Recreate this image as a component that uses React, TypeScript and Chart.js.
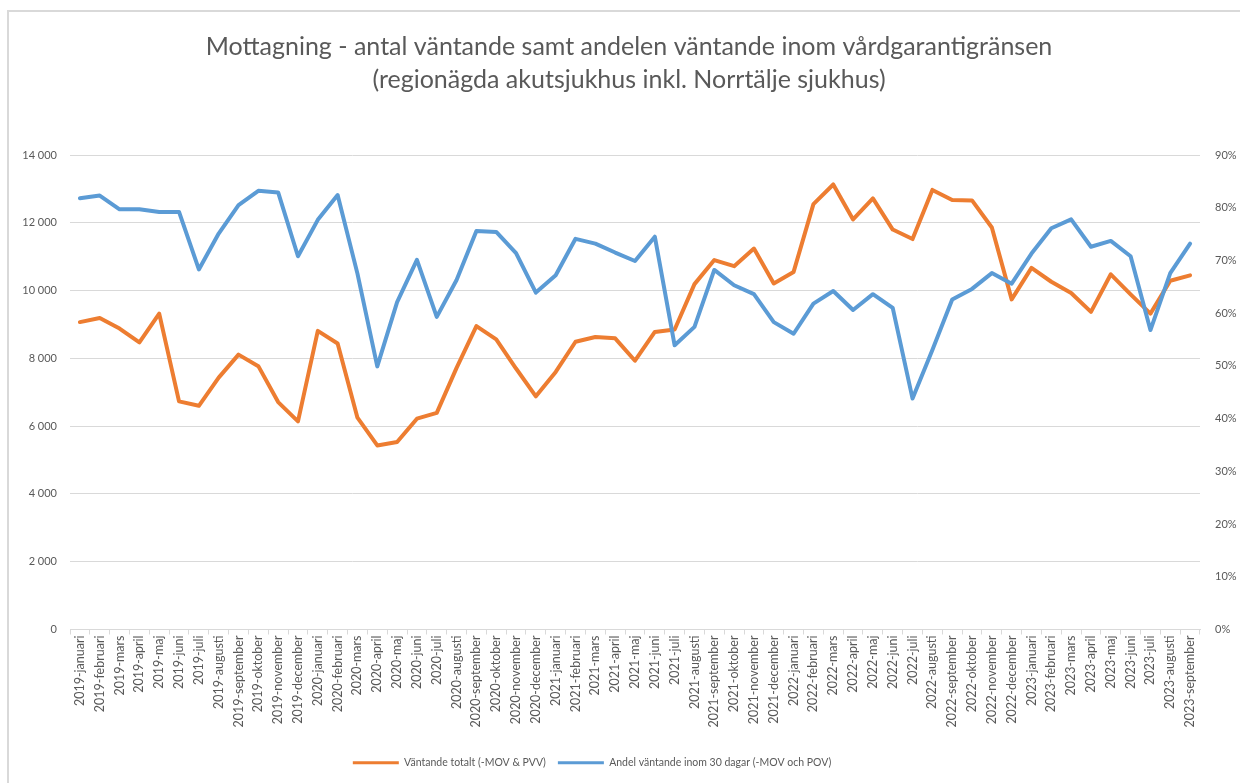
import React, { useEffect, useRef } from "react";
import { Chart, registerables } from "chart.js";

Chart.register(...registerables);

const categories = [
  "2019-januari", "2019-februari", "2019-mars", "2019-april", "2019-maj", "2019-juni",
  "2019-juli", "2019-augusti", "2019-september", "2019-oktober", "2019-november", "2019-december",
  "2020-januari", "2020-februari", "2020-mars", "2020-april", "2020-maj", "2020-juni",
  "2020-juli", "2020-augusti", "2020-september", "2020-oktober", "2020-november", "2020-december",
  "2021-januari", "2021-februari", "2021-mars", "2021-april", "2021-maj", "2021-juni",
  "2021-juli", "2021-augusti", "2021-september", "2021-oktober", "2021-november", "2021-december",
  "2022-januari", "2022-februari", "2022-mars", "2022-april", "2022-maj", "2022-juni",
  "2022-juli", "2022-augusti", "2022-september", "2022-oktober", "2022-november", "2022-december",
  "2023-januari", "2023-februari", "2023-mars", "2023-april", "2023-maj", "2023-juni",
  "2023-juli", "2023-augusti", "2023-september",
];

// Väntande totalt (left axis, antal)
const vantandeTotalt = [
  9070, 9190, 8880, 8470, 9320, 6730, 6600, 7430, 8110, 7770, 6710, 6140,
  8810, 8440, 6250, 5430, 5530, 6220, 6390, 7720, 8950, 8560, 7700, 6880,
  7600, 8490, 8630, 8590, 7930, 8780, 8850, 10190, 10900, 10720, 11240, 10210,
  10550, 12550, 13130, 12100, 12720, 11800, 11520, 12970, 12670, 12660, 11860, 9740,
  10670, 10260, 9930, 9370, 10480, 9890, 9320, 10290, 10450,
];

// Andel väntande inom 30 dagar (right axis, %)
const andelInom30 = [
  81.8, 82.3, 79.7, 79.7, 79.2, 79.2, 68.3, 75.1, 80.5, 83.2, 82.9, 70.8,
  77.7, 82.4, 67.5, 49.9, 62.1, 70.1, 59.3, 66.3, 75.6, 75.4, 71.4, 63.9,
  67.2, 74.1, 73.2, 71.5, 69.9, 74.5, 53.9, 57.4, 68.2, 65.3, 63.6, 58.3,
  56.1, 61.8, 64.2, 60.6, 63.6, 61.0, 43.8, 53.0, 62.6, 64.6, 67.6, 65.6,
  71.3, 76.1, 77.8, 72.6, 73.7, 70.8, 56.8, 67.6, 73.2,
];

const seriesNames = [
  "Väntande totalt (-MOV & PVV)",
  "Andel väntande inom 30 dagar (-MOV och POV)",
];

const titleLines = [
  "Mottagning - antal väntande samt andelen väntande inom vårdgarantigränsen",
  "(regionägda akutsjukhus inkl. Norrtälje sjukhus)",
];

const ORANGE = "#ED7D31";
const BLUE = "#5B9BD5";
const TEXT = "#595959";
const GRID = "#d9d9d9";
const FONT = "Lato";

function formatThousands(v: number): string {
  const s = Math.round(v).toString();
  return s.replace(/\B(?=(\d{3})+(?!\d))/g, " ");
}

const boxShift = {
  id: "boxShift",
  afterLayout(chart: any) {
    const lg = chart.legend;
    if (lg) {
      lg.left -= 28;
      lg.right -= 28;
    }
    const tb = chart.titleBlock;
    if (tb) {
      tb.left += 9;
      tb.right += 9;
    }
  },
};

export default function App() {
  const canvasRef = useRef<HTMLCanvasElement | null>(null);

  useEffect(() => {
    if (!canvasRef.current) return;
    Chart.defaults.font.family = FONT;
    const chart = new Chart(canvasRef.current, {
      type: "line",
      data: {
        labels: categories,
        datasets: [
          {
            label: seriesNames[0],
            data: vantandeTotalt,
            borderColor: ORANGE,
            backgroundColor: ORANGE,
            borderWidth: 4,
            pointRadius: 0,
            tension: 0,
            borderJoinStyle: "round",
            borderCapStyle: "round",
            yAxisID: "y",
            order: 1,
          },
          {
            label: seriesNames[1],
            data: andelInom30,
            borderColor: BLUE,
            backgroundColor: BLUE,
            borderWidth: 4,
            pointRadius: 0,
            tension: 0,
            borderJoinStyle: "round",
            borderCapStyle: "round",
            yAxisID: "y1",
            order: 0,
          },
        ],
      },
      options: {
        responsive: false,
        animation: false,
        devicePixelRatio: 1,
        layout: { padding: { left: 0, right: 0, top: 0, bottom: 5 } },
        plugins: {
          tooltip: { enabled: false },
          title: {
            display: true,
            text: titleLines,
            color: TEXT,
            font: { family: FONT, size: 25, weight: "normal", lineHeight: 1.32 },
            padding: { top: 30, bottom: 59 },
          },
          legend: {
            position: "bottom",
            labels: {
              color: TEXT,
              font: { family: FONT, size: 10.5 },
              boxWidth: 46,
              boxHeight: 3,
              padding: 12,
              generateLabels: (c: any) =>
                Chart.defaults.plugins.legend.labels
                  .generateLabels(c)
                  .map((l: any) => ({ ...l, fillStyle: l.strokeStyle, lineWidth: 0 })),
              sort: (a: any, b: any) => a.datasetIndex - b.datasetIndex,
            },
          },
        },
        scales: {
          x: {
            offset: true,
            grid: {
              offset: true,
              drawOnChartArea: false,
              drawTicks: true,
              tickLength: 5,
              color: GRID,
            },
            border: { display: true, color: GRID, width: 1 },
            ticks: {
              autoSkip: false,
              minRotation: 90,
              maxRotation: 90,
              color: TEXT,
              font: { family: FONT, size: 12.5 },
              padding: 1,
            },
            afterFit: (s: any) => {
              s.height = 116;
            },
          },
          y: {
            position: "left",
            min: 0,
            max: 14000,
            ticks: {
              stepSize: 2000,
              color: TEXT,
              font: { family: FONT, size: 11 },
              padding: 13,
              callback: (v: any) => formatThousands(Number(v)),
            },
            grid: { color: GRID, lineWidth: 1, drawTicks: false },
            border: { display: false },
            afterFit: (s: any) => {
              s.width = 70;
            },
          },
          y1: {
            position: "right",
            min: 0,
            max: 90,
            ticks: {
              stepSize: 10,
              color: TEXT,
              font: { family: FONT, size: 11 },
              padding: 15,
              callback: (v: any) => `${v}%`,
            },
            grid: { display: false, drawTicks: false },
            border: { display: false },
            afterFit: (s: any) => {
              s.width = 40;
            },
          },
        },
      },
      plugins: [boxShift],
    } as any);
    return () => chart.destroy();
  }, []);

  return (
    <div
      style={{
        position: "fixed",
        left: 0,
        top: 0,
        width: 1240,
        height: 783,
        background: "#ffffff",
        overflow: "hidden",
      }}
    >
      <div
        style={{
          position: "absolute",
          left: 7,
          top: 10,
          width: 1260,
          height: 800,
          border: `2px solid ${GRID}`,
          boxSizing: "border-box",
        }}
      />
      <canvas
        ref={canvasRef}
        width={1240}
        height={783}
        style={{ position: "absolute", left: 0, top: 0, width: 1240, height: 783 }}
      />
    </div>
  );
}
